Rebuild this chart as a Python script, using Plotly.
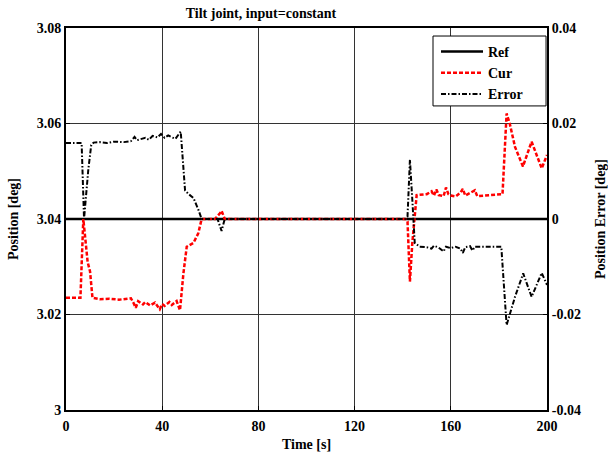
import plotly.graph_objects as go

# ---- data ----
ref_t = [0, 200]
ref_pos = [3.04, 3.04]

cur_t = [0, 6, 7.2, 8, 9, 10, 11, 14, 18, 22, 25, 27, 28, 29, 30, 32, 33, 35, 37, 39, 40, 41, 43, 44, 46,
         47.4, 48.8, 50.2, 53, 55, 56.4, 62, 64, 64.7, 66, 100, 141, 142, 143, 144, 145.8, 150, 152, 153,
         154, 155, 157, 158, 159, 160, 162, 164, 165, 166, 168, 170, 171, 175, 181.5, 183.2, 184.5, 186.7,
         190, 193.6, 197.8, 200]
cur_pos = [3.0235, 3.0235, 3.040, 3.036, 3.031, 3.029, 3.0235, 3.0232, 3.0233, 3.0231, 3.0232, 3.0234,
           3.0225, 3.0214, 3.0228, 3.0221, 3.0226, 3.0219, 3.0225, 3.0211, 3.0222, 3.0218, 3.0226, 3.0220,
           3.0228, 3.0209, 3.0285, 3.0342, 3.0350, 3.0370, 3.040, 3.040, 3.0412, 3.0417, 3.040, 3.040,
           3.040, 3.0395, 3.0269, 3.035, 3.045, 3.0452, 3.0458, 3.0449, 3.0462, 3.0450, 3.0448, 3.0466,
           3.0452, 3.0449, 3.0447, 3.0455, 3.0463, 3.0449, 3.0455, 3.0460, 3.0448, 3.0450, 3.0452, 3.0621,
           3.0600, 3.0551, 3.0510, 3.0562, 3.0506, 3.0534]

err_t = [0, 6.5, 7.5, 8.5, 9.3, 10.5, 11.5, 14, 17, 20, 24, 27, 28.5, 29.5, 31, 33, 34.5, 36, 38, 39.5,
         41, 42.5, 44, 45.5, 47.7, 48.8, 49.5, 51, 53, 55, 56.4, 63, 64.7, 66, 141, 142, 143, 144, 145,
         147, 150, 152, 153, 155, 157, 158, 160, 162, 164, 165, 166, 168, 169, 170, 175, 181, 183.2,
         184.5, 186.7, 190.1, 193.6, 197.8, 200]
err_val = [0.0159, 0.0159, 0.0, 0.006, 0.0105, 0.0155, 0.0160, 0.0161, 0.0159, 0.0162, 0.0161, 0.0163,
           0.0172, 0.0165, 0.0167, 0.0170, 0.0166, 0.0174, 0.0171, 0.0178, 0.0170, 0.0175, 0.0171, 0.0168,
           0.0183, 0.0103, 0.0060, 0.0052, 0.0044, 0.0020, 0.0, 0.0, -0.0025, 0.0, 0.0, 0.0005, 0.0124,
           0.004, -0.005, -0.0058, -0.0059, -0.0062, -0.0056, -0.0060, -0.0068, -0.0058, -0.0061, -0.0058,
           -0.0062, -0.0071, -0.0059, -0.0057, -0.0066, -0.0058, -0.0058, -0.0058, -0.0222, -0.0200,
           -0.0163, -0.0114, -0.0163, -0.0113, -0.0138]

x_ticks = [0, 40, 80, 120, 160, 200]
y_ticks = [3, 3.02, 3.04, 3.06, 3.08]
y_tick_text = ["3", "3.02", "3.04", "3.06", "3.08"]
y2_ticks = [-0.04, -0.02, 0, 0.02, 0.04]
y2_tick_text = ["-0.04", "-0.02", "0", "0.02", "0.04"]

FONT = "Liberation Serif"

fig = go.Figure()
fig.add_trace(go.Scatter(x=ref_t, y=ref_pos, name="Ref", mode="lines",
                         line=dict(color="black", width=2.5)))
fig.add_trace(go.Scatter(x=cur_t, y=cur_pos, name="Cur", mode="lines",
                         line=dict(color="#ff0000", width=2.5, dash="4px,2px")))
fig.add_trace(go.Scatter(x=err_t, y=err_val, name="Error", mode="lines", yaxis="y2",
                         line=dict(color="black", width=2, dash="5px,2px,1.5px,2px")))

axis_common = dict(showline=True, linecolor="black", linewidth=2, ticks="inside", ticklen=4,
                   tickcolor="black", tickfont=dict(family=FONT, size=14, color="black", weight="bold"),
                   zeroline=False, automargin=False)

# legend frame (white box with black border)
fig.add_shape(type="rect", xref="paper", yref="paper", x0=0.763, x1=0.998, y0=0.796, y1=0.979,
              fillcolor="white", line=dict(color="black", width=1), layer="above")

fig.update_layout(
    width=608, height=452,
    margin=dict(l=66, r=61, t=28, b=42),
    paper_bgcolor="white", plot_bgcolor="white",
    title=dict(text="Tilt joint, input=constant", xref="container", x=261 / 608, xanchor="center",
               y=1 - 13 / 452, yanchor="middle",
               font=dict(family=FONT, size=14, color="black", weight="bold")),
    xaxis=dict(range=[0, 200], tickvals=x_ticks, showgrid=True, gridcolor="#333333", gridwidth=1,
               mirror=True, ticklabelstandoff=2,
               title=dict(text="Time [s]", font=dict(family=FONT, size=14, color="black", weight="bold")),
               **axis_common),
    yaxis=dict(range=[3, 3.08], tickvals=y_ticks, ticktext=y_tick_text, showgrid=True,
               gridcolor="#333333", gridwidth=1,
               title=dict(text="Position [deg]", font=dict(family=FONT, size=14, color="black", weight="bold")),
               **axis_common),
    yaxis2=dict(range=[-0.04, 0.04], tickvals=y2_ticks, ticktext=y2_tick_text, overlaying="y",
                side="right", showgrid=False,
                title=dict(text="Position Error [deg]",
                           font=dict(family=FONT, size=14, color="black", weight="bold")),
                **axis_common),
    legend=dict(x=(436 - 66) / 481, y=0.979, xanchor="left", yanchor="top", bgcolor="rgba(0,0,0,0)",
                borderwidth=0, itemwidth=42,
                font=dict(family=FONT, size=14, color="black", weight="bold")),
    showlegend=True,
)

fig.write_html("out.html")
